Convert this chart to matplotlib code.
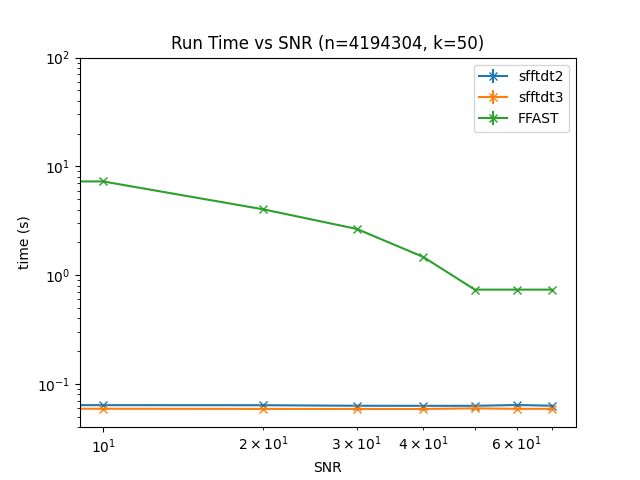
import matplotlib
matplotlib.use("Agg")
import matplotlib.pyplot as plt

# SNR values (0 is clipped on the log axis)
snr = [0, 10, 20, 30, 40, 50, 60, 70]

# mean run times (s)
t_sfftdt2 = [0.0638, 0.0638, 0.0637, 0.0630, 0.0629, 0.0629, 0.0640, 0.0630]
t_sfftdt3 = [0.0591, 0.0591, 0.0589, 0.0589, 0.0588, 0.0596, 0.0590, 0.0590]
t_ffast = [7.27, 7.27, 4.03, 2.66, 1.47, 0.736, 0.736, 0.736]

# standard deviations (very small)
e_sfftdt2 = [0.001, 0.001, 0.001, 0.001, 0.001, 0.001, 0.001, 0.001]
e_sfftdt3 = [0.001, 0.001, 0.001, 0.001, 0.001, 0.001, 0.001, 0.001]
e_ffast = [0.05, 0.05, 0.03, 0.02, 0.01, 0.005, 0.005, 0.005]

fig, ax = plt.subplots(figsize=(6.4, 4.8), dpi=100)
ax.set_xscale('log', nonpositive='clip')
ax.set_yscale('log', nonpositive='clip')

ax.errorbar(snr, t_sfftdt2, yerr=e_sfftdt2, marker='x', label='sfftdt2')
ax.errorbar(snr, t_sfftdt3, yerr=e_sfftdt3, marker='x', label='sfftdt3')
ax.errorbar(snr, t_ffast, yerr=e_ffast, marker='x', label='FFAST')

ax.set_xlim(9.05, 77.5)
ax.set_ylim(0.04, 100)

ax.set_title('Run Time vs SNR (n=4194304, k=50)')
ax.set_xlabel('SNR')
ax.set_ylabel('time (s)')
ax.legend(loc='upper right')

fig.savefig('out.png')
